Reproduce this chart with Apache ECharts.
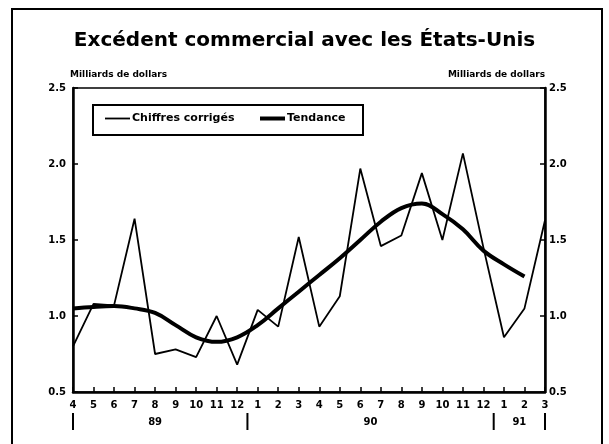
<!DOCTYPE html>
<html>
<head>
<meta charset="utf-8">
<script src="https://cdn.jsdelivr.net/npm/echarts@6/dist/echarts.min.js"></script>
<style>
html,body{margin:0;padding:0;background:#fff;}
#chart{width:609px;height:444px;}
</style>
</head>
<body>
<div id="chart"></div>
<script>
const months = ['4','5','6','7','8','9','10','11','12','1','2','3','4','5','6','7','8','9','10','11','12','1','2','3'];
const chiffresCorriges = [0.80,1.08,1.07,1.64,0.75,0.78,0.73,1.00,0.68,1.04,0.93,1.52,0.93,1.13,1.97,1.46,1.53,1.94,1.50,2.07,1.45,0.86,1.05,1.63];
const tendance = [1.05,1.06,1.065,1.05,1.02,0.94,0.86,0.83,0.86,0.94,1.05,1.16,1.27,1.38,1.50,1.62,1.71,1.74,1.67,1.57,1.43,1.34,1.26,null];
const yearLabels = ['89','90','91'];
const yearLabelPos = [4.0, 14.5, 21.75];
const yearSeparators = [0, 8.5, 20.5, 23];
const yTicks = [0.5, 1.0, 1.5, 2.0, 2.5];

const FONT = '"DejaVu Sans", "Liberation Sans", sans-serif';
const chart = echarts.init(document.getElementById('chart'), null, {renderer:'canvas'});

const yAxisBase = (pos) => ({
  type: 'value', position: pos, min: yTicks[0], max: yTicks[yTicks.length-1], interval: 0.5,
  name: 'Milliards de dollars', nameLocation: 'end', nameGap: 9,
  nameTextStyle: {fontFamily: FONT, fontWeight: 'bold', fontSize: 9, color: '#000', align: pos === 'left' ? 'left' : 'right', padding: pos === 'left' ? [0,0,0,-3] : [0,0,0,0]},
  axisLine: {show: true, lineStyle: {color: '#000', width: 2.5}},
  axisTick: {show: true, inside: true, length: 5, lineStyle: {color: '#000', width: 1.5}},
  splitLine: {show: false},
  axisLabel: {fontFamily: FONT, fontWeight: 'bold', fontSize: 10, color: '#000', margin: pos === 'left' ? 7 : 4,
    formatter: v => v.toFixed(1)}
});

const legendBase = (name, left, h) => ({
  data: [name], left: left, top: 113, padding: 0, icon: 'rect',
  itemWidth: 25, itemHeight: h, itemGap: 0,
  textStyle: {fontFamily: FONT, fontWeight: 'bold', fontSize: 11, color: '#000', padding: [0,0,0,-3]}
});

chart.setOption({
  animation: false,
  backgroundColor: '#fff',
  title: {
    text: 'Excédent commercial avec les États-Unis', left: 'center', top: 26,
    textStyle: {fontFamily: FONT, fontWeight: 'bold', fontSize: 20, color: '#000'}
  },
  grid: {left: 73, right: 64, top: 88, bottom: 52, show: true, borderColor: '#000', borderWidth: 1.5},
  legend: [legendBase('Chiffres corrigés', 105, 1.8), legendBase('Tendance', 260, 4)],
  xAxis: {
    type: 'category', data: months, boundaryGap: false,
    axisLine: {show: true, lineStyle: {color: '#000', width: 2.5}},
    axisTick: {show: true, inside: true, length: 5, lineStyle: {color: '#000', width: 1.5}},
    axisLabel: {fontFamily: FONT, fontWeight: 'bold', fontSize: 10, color: '#000', margin: 8, interval: 0},
    splitLine: {show: false}
  },
  yAxis: [yAxisBase('left'), yAxisBase('right')],
  series: [
    {name: 'Chiffres corrigés', type: 'line', data: chiffresCorriges, symbol: 'none',
     lineStyle: {color: '#000', width: 1.8}, itemStyle: {color: '#000'}},
    {name: 'Tendance', type: 'line', data: tendance, symbol: 'none', smooth: 0.4,
     lineStyle: {color: '#000', width: 4}, itemStyle: {color: '#000'}}
  ]
});

function drawExtras(){
  const x0 = chart.convertToPixel({xAxisIndex: 0}, 0);
  const x1 = chart.convertToPixel({xAxisIndex: 0}, 1);
  const step = x1 - x0;
  const yBase = chart.convertToPixel({yAxisIndex: 0}, yTicks[0]);
  const els = [];
  yearSeparators.forEach(i => {
    const x = x0 + step * i;
    els.push({type: 'line', shape: {x1: x, y1: yBase + 21, x2: x, y2: yBase + 38}, style: {stroke: '#000', lineWidth: 2}});
  });
  yearLabels.forEach((t, k) => {
    const x = x0 + step * yearLabelPos[k];
    els.push({type: 'text', x: x, y: yBase + 30, style: {text: t, fill: '#000', font: 'bold 10px ' + FONT, textAlign: 'center', textVerticalAlign: 'middle'}});
  });
  // legend frame
  els.push({type: 'rect', shape: {x: 93, y: 105, width: 270, height: 30}, style: {fill: 'none', stroke: '#000', lineWidth: 2}, silent: true});
  // outer frame
  els.push({type: 'rect', shape: {x: 12, y: 9, width: 590, height: 460}, style: {fill: 'none', stroke: '#000', lineWidth: 2}, silent: true, z: -1});
  chart.setOption({graphic: els});
}
drawExtras();
</script>
</body>
</html>
